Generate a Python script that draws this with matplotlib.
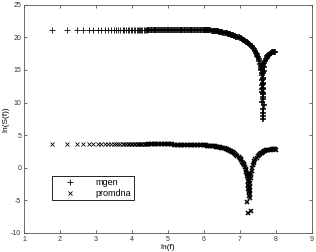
import matplotlib
matplotlib.use("Agg")
import matplotlib.pyplot as plt

plt.rcParams['font.family'] = ['Liberation Sans', 'DejaVu Sans']
plt.rcParams['axes.unicode_minus'] = False

# ln(f) of the separate low-frequency points (shared by both series)
x_sparse = [1.79, 2.20, 2.46, 2.65, 2.80, 2.93, 3.05, 3.15, 3.24, 3.33, 3.42, 3.49,
            3.56, 3.62, 3.68, 3.74, 3.79, 3.84, 3.89, 3.93, 3.97, 4.01, 4.05, 4.09,
            4.13, 4.16, 4.20, 4.23, 4.26, 4.29, 4.32, 4.35, 4.38, 4.41]
# ln(f) where the points merge into a band, still on the flat level
x_band = [4.44, 4.48, 4.52, 4.56, 4.60, 4.64, 4.68, 4.72, 4.76, 4.80, 4.84, 4.88,
          4.92, 4.96, 5.00, 5.04, 5.08, 5.12, 5.16, 5.20, 5.24, 5.28, 5.32, 5.36,
          5.40, 5.44, 5.48, 5.52, 5.56, 5.60, 5.64, 5.68, 5.72, 5.76, 5.80, 5.84,
          5.88, 5.92, 5.96, 6.00]

# flat levels ln|S(f)| in that range
mgen_level = 21.15
promdna_level = 3.6
promdna_band = [3.6, 3.6, 3.6, 3.6, 3.6, 3.6, 3.6, 3.6, 3.6, 3.6, 3.59, 3.59,
                3.59, 3.58, 3.58, 3.58, 3.57, 3.57, 3.56, 3.56, 3.55, 3.55, 3.54, 3.54,
                3.53, 3.53, 3.52, 3.52, 3.51, 3.50, 3.50, 3.49, 3.48, 3.48, 3.47, 3.47,
                3.46, 3.46, 3.45, 3.45]

# high-frequency part
mgen_x = [6.03, 6.06, 6.09, 6.12, 6.15, 6.18, 6.21, 6.24, 6.27, 6.30, 6.33, 6.36,
          6.39, 6.42, 6.45, 6.48, 6.51, 6.54, 6.57, 6.60, 6.63, 6.66, 6.69, 6.72,
          6.75, 6.78, 6.81, 6.84, 6.87, 6.90, 6.93, 6.96, 6.99, 7.02, 7.05, 7.08,
          7.11, 7.14, 7.17, 7.20, 7.23, 7.26, 7.29, 7.32, 7.35, 7.38, 7.41, 7.44,
          7.46, 7.48, 7.50, 7.52, 7.54, 7.56, 7.57, 7.58, 7.59, 7.60,
          7.61, 7.63, 7.62, 7.64, 7.61, 7.63, 7.65, 7.62, 7.64, 7.63, 7.65, 7.62,
          7.64, 7.62, 7.65, 7.63, 7.64, 7.62, 7.64,
          7.66, 7.63, 7.65, 7.64, 7.63,
          7.66, 7.67, 7.68, 7.70, 7.72, 7.74, 7.76, 7.78, 7.80, 7.83, 7.86, 7.89,
          7.92, 7.95, 7.98]
mgen_y = [21.12, 21.11, 21.10, 21.08, 21.07, 21.05, 21.03, 21.01, 20.99, 20.97, 20.94, 20.92,
          20.89, 20.86, 20.83, 20.80, 20.76, 20.73, 20.69, 20.65, 20.61, 20.57, 20.52, 20.47,
          20.42, 20.37, 20.31, 20.25, 20.19, 20.12, 20.05, 19.98, 19.90, 19.82, 19.73, 19.64,
          19.54, 19.44, 19.33, 19.21, 19.08, 18.94, 18.78, 18.61, 18.42, 18.20, 17.95, 17.67,
          17.45, 17.20, 16.95, 16.65, 16.30, 15.90, 15.60, 15.30, 15.00, 14.60,
          14.2, 13.8, 13.4, 13.0, 12.7, 12.3, 12.0, 11.6, 11.3, 10.9, 10.5, 10.1,
          15.8, 15.2, 14.5, 13.6, 12.9, 12.1, 11.4,
          9.6, 9.0, 8.4, 7.9, 7.4,
          14.8, 15.5, 16.0, 16.4, 16.7, 16.9, 17.1, 17.25, 17.35, 17.5, 17.6, 17.7,
          17.75, 17.8, 17.8]

promdna_x = [6.03, 6.06, 6.09, 6.12, 6.15, 6.18, 6.21, 6.24, 6.27, 6.30, 6.33, 6.36,
             6.39, 6.42, 6.45, 6.48, 6.51, 6.54, 6.57, 6.60, 6.63, 6.66, 6.69, 6.72,
             6.75, 6.78, 6.81, 6.84, 6.87, 6.90, 6.93, 6.96, 6.99, 7.02, 7.04, 7.06,
             7.08, 7.10, 7.12, 7.14, 7.16, 7.17, 7.18, 7.19, 7.20,
             7.22, 7.25, 7.21, 7.27, 7.23, 7.26, 7.22, 7.28, 7.24, 7.27, 7.25, 7.28,
             7.24, 7.29, 7.26, 7.23, 7.28, 7.25,
             7.20, 7.23, 7.31,
             7.30, 7.31, 7.32, 7.34, 7.36, 7.38, 7.40, 7.43, 7.46, 7.49, 7.52, 7.55,
             7.58, 7.61, 7.64, 7.67, 7.70, 7.73, 7.76, 7.79, 7.82, 7.85, 7.88, 7.91,
             7.94, 7.97, 8.00]
promdna_y = [3.44, 3.43, 3.41, 3.40, 3.38, 3.36, 3.34, 3.32, 3.30, 3.28, 3.25, 3.22,
             3.19, 3.16, 3.13, 3.09, 3.05, 3.01, 2.96, 2.91, 2.85, 2.79, 2.72, 2.64,
             2.56, 2.47, 2.37, 2.26, 2.13, 1.99, 1.84, 1.67, 1.48, 1.27, 1.12, 0.95,
             0.77, 0.57, 0.35, 0.10, -0.20, -0.40, -0.65, -0.90, -1.20,
             -1.5, -1.8, -2.1, -2.3, -2.6, -2.9, -3.2, -3.4, -3.7, -4.0, -4.3, -4.6,
             -0.8, -1.2, -2.0, -2.7, -3.0, -3.5,
             -5.3, -7.0, -6.6,
             -1.6, -1.0, -0.5, 0.0, 0.4, 0.75, 1.0, 1.3, 1.55, 1.75, 1.9, 2.05,
             2.2, 2.3, 2.4, 2.5, 2.58, 2.65, 2.7, 2.75, 2.78, 2.8, 2.82, 2.83,
             2.83, 2.82, 2.8]

x_ticks = [1, 2, 3, 4, 5, 6, 7, 8, 9]
y_ticks = [-10, -5, 0, 5, 10, 15, 20, 25]

fig = plt.figure(figsize=(3.16, 2.52), dpi=100)
ax = fig.add_axes([0.076, 0.0754, 0.9114, 0.906])

thin = dict(linestyle='none', color='black', markeredgewidth=0.6)
bold = dict(linestyle='none', color='black', markeredgewidth=1.1)

# separate points
ax.plot(x_sparse, [mgen_level] * len(x_sparse), marker='+', markersize=3.8, label='mgen', **thin)
ax.plot(x_sparse, [promdna_level] * len(x_sparse), marker='x', markersize=2.8,
        label='promdna', **thin)
# dense part, where markers overlap into a band
ax.plot(x_band + mgen_x, [mgen_level] * len(x_band) + mgen_y, marker='+', markersize=4.4, **bold)
ax.plot(x_band + promdna_x, promdna_band + promdna_y, marker='x', markersize=3.5, **bold)

ax.set_xlim(1, 9)
ax.set_ylim(-10, 25)
ax.set_xticks(x_ticks)
ax.set_yticks(y_ticks)
ax.tick_params(direction='in', length=2.5, width=0.5, labelsize=5,
               top=True, right=True, pad=2, colors='#333333')
for s in ax.spines.values():
    s.set_linewidth(0.6)
    s.set_color('#555555')

ax.set_xlabel('ln(f)', fontsize=6, labelpad=1)
ax.set_ylabel('ln(S(f))', fontsize=6, labelpad=1)

leg = ax.legend(loc='center', bbox_to_anchor=(0.097, 0.1445, 0.285, 0.105), mode='expand',
                borderaxespad=0, fontsize=6.5, fancybox=False, framealpha=1,
                edgecolor='black', borderpad=0.3, labelspacing=0.15,
                handlelength=3.4, handletextpad=1.1)
leg.get_frame().set_linewidth(0.6)

fig.savefig('out.png', dpi=100)
